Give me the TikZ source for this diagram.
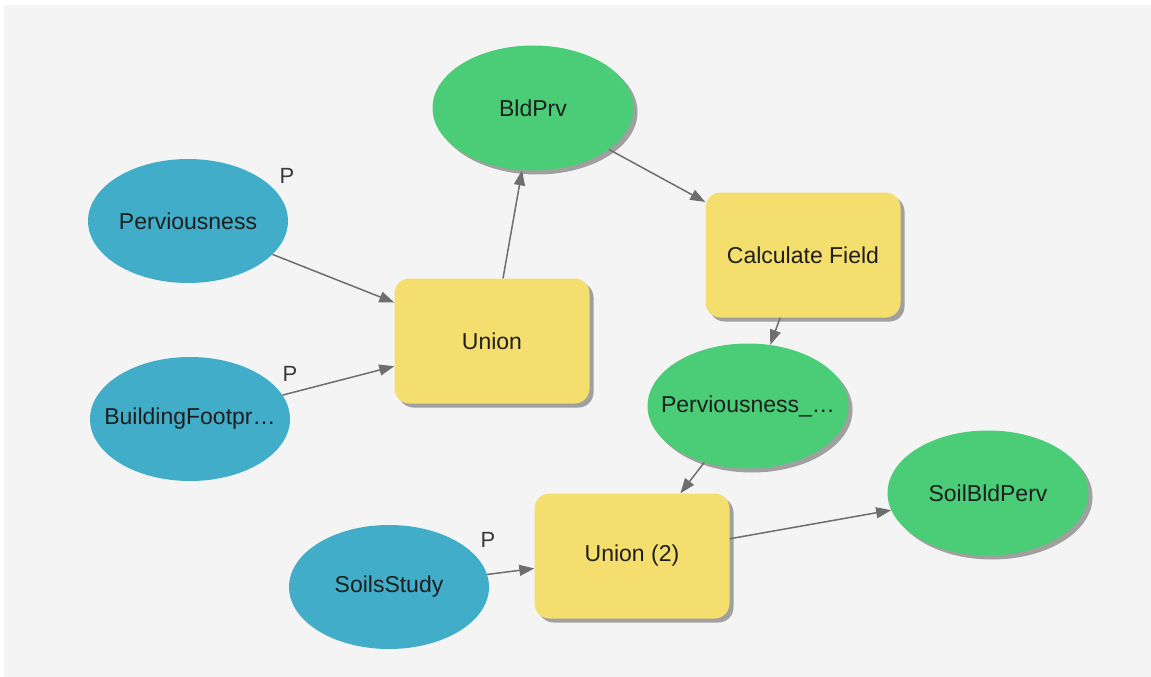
\documentclass[tikz,border=0pt]{standalone}
\usepackage{fontspec}
\setmainfont{Liberation Sans}
\usetikzlibrary{shapes.geometric,arrows.meta,shadows}
\definecolor{bgc}{HTML}{F4F4F4}
\definecolor{inblue}{HTML}{41ADC9}
\definecolor{outgreen}{HTML}{4BCD78}
\definecolor{toolyel}{HTML}{F4DF6E}
\definecolor{txt}{HTML}{1E1E1E}
\definecolor{arr}{HTML}{6E6E6E}
\definecolor{plab}{HTML}{3A3A3A}
\newcommand{\zw}[1]{\makebox[0pt]{#1}}
\tikzset{
  shad/.style={drop shadow={shadow xshift=4pt,shadow yshift=-4pt,fill=black!45,opacity=0.8}},
  inputdata/.style={ellipse,fill=inblue,minimum width=200pt,minimum height=124pt,inner sep=0pt,text=txt,font=\fontsize{23}{27}\selectfont},
  outdata/.style={ellipse,fill=outgreen,shad,minimum width=201pt,minimum height=125pt,inner sep=0pt,text=txt,font=\fontsize{23}{27}\selectfont},
  tool/.style={rectangle,rounded corners=15pt,fill=toolyel,shad,minimum width=195pt,minimum height=125pt,inner sep=0pt,text=txt,font=\fontsize{23}{27}\selectfont},
  conn/.style={draw=arr,line width=1.5pt,-{Triangle[length=15pt,width=11pt]}},
  plabel/.style={text=plab,font=\fontsize{22}{26}\selectfont,inner sep=0pt}
}
\begin{document}
\begin{tikzpicture}[x=1pt,y=-1pt]
\useasboundingbox (0,0) rectangle (1151,677);
\fill[bgc] (4,5) rectangle (1151,677);
% nodes
\node[inputdata] (perv) at (188,221) {\zw{Perviousness}};
\node[inputdata] (bldg) at (190,419) {\zw{BuildingFootpr\dots}};
\node[inputdata] (soils) at (389,587) {\zw{SoilsStudy}};
\node[outdata] (bldprv) at (533,108) {\zw{BldPrv}};
\node[outdata] (pervout) at (748,406) {\zw{Perviousness\_\dots}};
\node[outdata] (soilbld) at (988,493) {\zw{SoilBldPerv}};
\node[tool] (union) at (492,341) {Union};
\node[tool] (calc) at (803,255) {Calculate Field};
\node[tool] (union2) at (632,556) {Union (2)};
% P labels
\node[plabel] (p1) at (287,176) {P};
\node[plabel] (p2) at (290,374) {P};
\node[plabel] (p3) at (488,540) {P};
% connectors
\draw[conn] (perv) -- (union);
\draw[conn] (bldg) -- (union);
\draw[conn] (union) -- (bldprv);
\draw[conn] (bldprv) -- (calc);
\draw[conn] (calc) -- (pervout);
\draw[conn] (pervout) -- (union2);
\draw[conn] (soils) -- (union2);
\draw[conn] (union2) -- (soilbld);
\end{tikzpicture}
\end{document}
